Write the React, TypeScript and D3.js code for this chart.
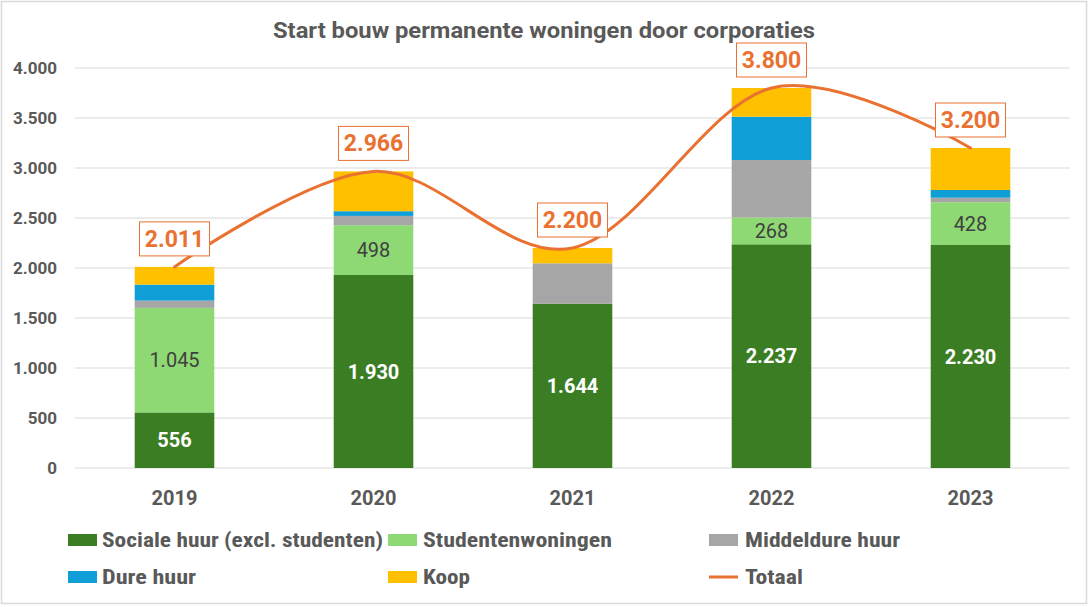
import React from "react";
import * as d3 from "d3";

const years = ["2019", "2020", "2021", "2022", "2023"];
const sociale = [556, 1930, 1644, 2237, 2230];
const studenten = [1045, 498, 0, 268, 428];
const middeldure = [73, 93, 403, 575, 45];
const dure = [160, 47, 0, 433, 77];
const koop = [177, 398, 153, 287, 420];
const totaal = [2011, 2966, 2200, 3800, 3200];
const yTicks = [0, 500, 1000, 1500, 2000, 2500, 3000, 3500, 4000];

const seriesNames = ["Sociale huur (excl. studenten)", "Studentenwoningen", "Middeldure huur", "Dure huur", "Koop"];
const seriesColors = ["#3B7D23", "#8ED973", "#A6A6A6", "#0F9ED5", "#FFC000"];
const lineColor = "#E97132";

const W = 1090;
const H = 607;
const font = "Roboto, 'Liberation Sans', sans-serif";
const narrow = "'Liberation Sans Narrow', 'Roboto Condensed', Roboto, sans-serif";

const nl = d3.formatLocale({ decimal: ",", thousands: ".", grouping: [3], currency: ["€", ""] });
const fmt = nl.format(",d");

export default function App() {
  if (typeof document !== "undefined") document.body.style.margin = "0";
  const x = d3.scaleBand<string>().domain(years).range([75, 1070]).paddingInner(0.6).paddingOuter(0.3);
  const y = d3.scaleLinear().domain([0, 4000]).range([468, 68]);
  const allSeries = [sociale, studenten, middeldure, dure, koop];

  const stackData = years.map((yr, i) => {
    const o: any = { year: yr };
    allSeries.forEach((s, k) => (o["s" + k] = s[i]));
    return o;
  });
  const stack = d3.stack<any>().keys(allSeries.map((_, k) => "s" + k))(stackData);

  const line = d3
    .line<number>()
    .x((_, i) => (x(years[i]) as number) + x.bandwidth() / 2)
    .y((d) => y(d))
    .curve(d3.curveCardinal.tension(0));

  const legend = [
    { name: seriesNames[0], color: seriesColors[0], sx: 68, tx: 102, cy: 540, w: 281, type: "rect" },
    { name: seriesNames[1], color: seriesColors[1], sx: 388, tx: 423, cy: 540, w: 189, type: "rect" },
    { name: seriesNames[2], color: seriesColors[2], sx: 709, tx: 745, cy: 540, w: 155, type: "rect" },
    { name: seriesNames[3], color: seriesColors[3], sx: 68, tx: 102, cy: 577, w: 94, type: "rect" },
    { name: seriesNames[4], color: seriesColors[4], sx: 388, tx: 423, cy: 577, w: 47, type: "rect" },
    { name: "Totaal", color: lineColor, sx: 709, tx: 745, cy: 577, w: 58, type: "line" },
  ];

  return (
    <svg width={W} height={H} style={{ display: "block" }}>
      <rect x={1.5} y={1.5} width={W - 5} height={H - 5} fill="#fff" stroke="#D9D9D9" strokeWidth={1.5} />
      <text x={273} y={38} fontFamily={font} fontWeight={700} fontSize={22} fill="#595959"
        textLength={542} lengthAdjust="spacingAndGlyphs">
        Start bouw permanente woningen door corporaties
      </text>
      {yTicks.map((t) => (
        <g key={t}>
          <line x1={75} x2={1070} y1={y(t)} y2={y(t)} stroke="#D9D9D9" strokeWidth={1} />
          <text x={57} y={y(t) + 6} textAnchor="end" fontFamily={font} fontWeight={700} fontSize={17} fill="#595959">
            {fmt(t)}
          </text>
        </g>
      ))}
      {stack.map((layer, k) => (
        <g key={k} fill={seriesColors[k]}>
          {layer.map((d, i) =>
            d[1] - d[0] > 0 ? (
              <rect key={i} x={x(years[i])} width={x.bandwidth()} y={y(d[1])} height={y(d[0]) - y(d[1])} />
            ) : null
          )}
        </g>
      ))}
      {stack[0].map((d, i) => (
        <text key={"l0" + i} x={(x(years[i]) as number) + x.bandwidth() / 2} y={(y(d[0]) + y(d[1])) / 2 + 7}
          textAnchor="middle" fontFamily={font} fontWeight={700} fontSize={20} fill="#fff">
          {fmt(d[1] - d[0])}
        </text>
      ))}
      {stack[1].map((d, i) =>
        d[1] - d[0] > 0 ? (
          <text key={"l1" + i} x={(x(years[i]) as number) + x.bandwidth() / 2} y={(y(d[0]) + y(d[1])) / 2 + 7}
            textAnchor="middle" fontFamily={font} fontWeight={400} fontSize={20} fill="#404040">
            {fmt(d[1] - d[0])}
          </text>
        ) : null
      )}
      {years.map((yr) => (
        <text key={yr} x={(x(yr) as number) + x.bandwidth() / 2} y={505} textAnchor="middle" fontFamily={font}
          fontWeight={700} fontSize={20} fill="#595959">
          {yr}
        </text>
      ))}
      <path d={line(totaal) || ""} fill="none" stroke={lineColor} strokeWidth={3} strokeLinecap="round" />
      {totaal.map((v, i) => {
        const cx = (x(years[i]) as number) + x.bandwidth() / 2;
        const by = y(v) - 11;
        return (
          <g key={"t" + i}>
            <rect x={cx - 35} y={by - 34} width={70} height={34} fill="#fff" stroke={lineColor} strokeWidth={1} />
            <text x={cx} y={by - 9} textAnchor="middle" fontFamily={font} fontWeight={700} fontSize={23} fill={lineColor}>
              {fmt(v)}
            </text>
          </g>
        );
      })}
      {legend.map((l) => (
        <g key={l.name}>
          {l.type === "rect" ? (
            <rect x={l.sx} y={l.cy - 6} width={29} height={12} fill={l.color} />
          ) : (
            <line x1={l.sx} x2={l.sx + 29} y1={l.cy} y2={l.cy} stroke={l.color} strokeWidth={3} />
          )}
          <text x={l.tx} y={l.cy + 7} fontFamily={narrow} fontWeight={700} fontSize={20} fill="#595959"
            textLength={l.w} lengthAdjust="spacingAndGlyphs">
            {l.name}
          </text>
        </g>
      ))}
    </svg>
  );
}
